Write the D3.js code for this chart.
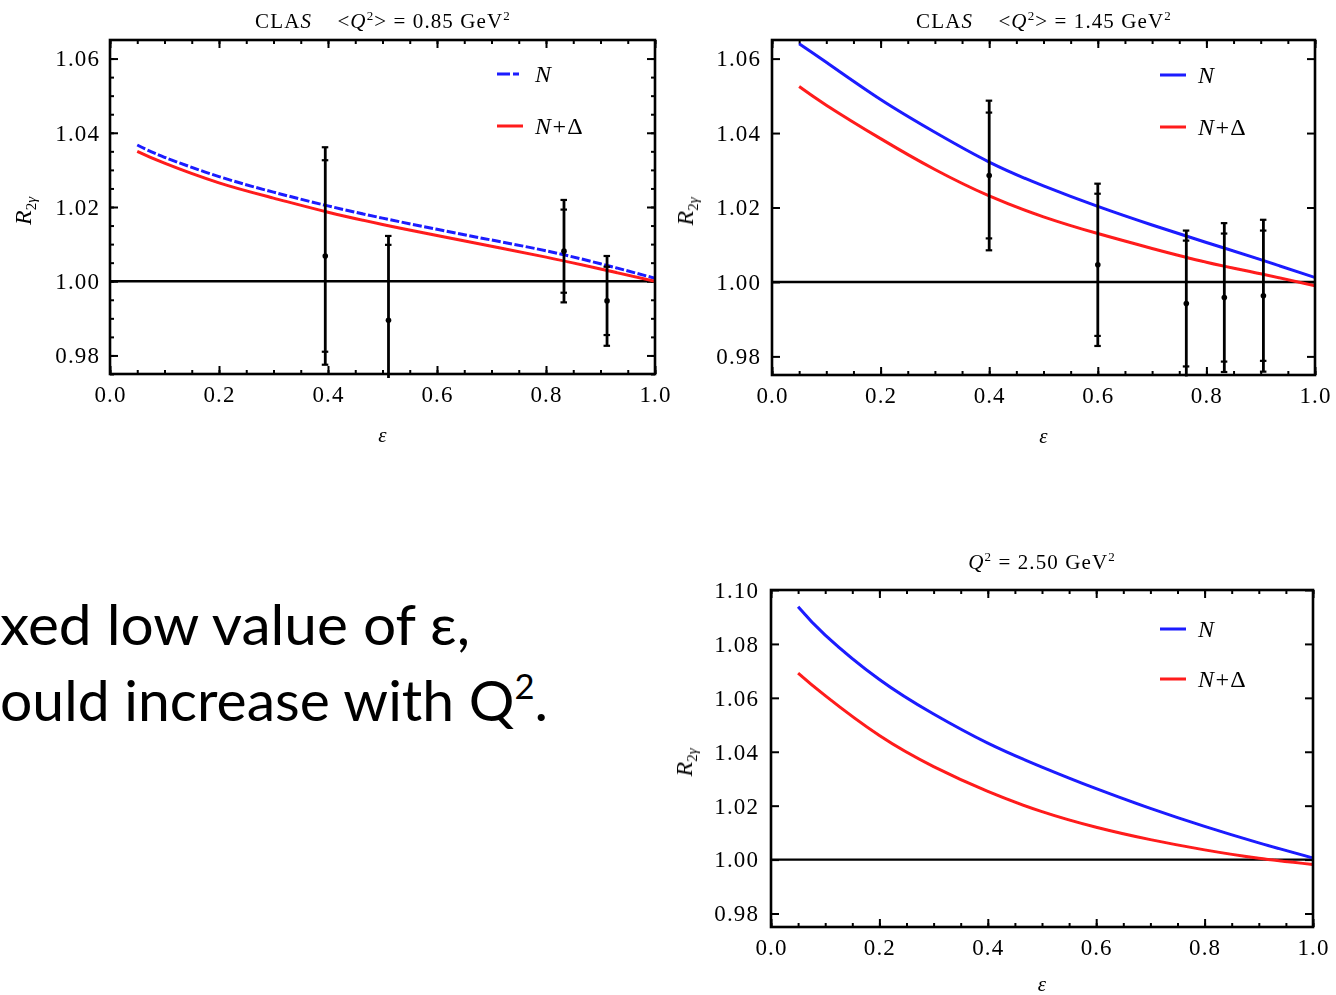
<!DOCTYPE html>
<html><head><meta charset="utf-8">
<script src="https://cdn.jsdelivr.net/npm/d3@7"></script>
<style>
body{margin:0;background:#fff;}
svg{display:block;}
text{white-space:pre;}
</style>
</head><body>
<script>
// ---------- data ----------
const epsGrid = [0.05, 0.1, 0.2, 0.3, 0.4, 0.5, 0.6, 0.7, 0.8, 0.9, 1.0];

// panel 1 : CLAS <Q2> = 0.85 GeV2
const p1N  = [1.0367, 1.0334, 1.0282, 1.0240, 1.0203, 1.0170, 1.0140, 1.0111, 1.0082, 1.0047, 1.0008];
const p1ND = [1.0350, 1.0318, 1.0265, 1.0224, 1.0186, 1.0153, 1.0123, 1.0094, 1.0065, 1.0033, 1.0000];
const p1DataEps   = [0.395, 0.511, 0.833, 0.912];
const p1DataVal   = [1.0068, 0.9895, 1.0081, 0.9947];
const p1ErrOuter  = [0.0293, 0.0227, 0.0138, 0.0121];
const p1ErrInner  = [0.0258, 0.0203, 0.0112, 0.0092];

// panel 2 : CLAS <Q2> = 1.45 GeV2
const p2N  = [1.0640, 1.0590, 1.0490, 1.0402, 1.0322, 1.0258, 1.0203, 1.0153, 1.0106, 1.0060, 1.0012];
const p2ND = [1.0525, 1.0475, 1.0385, 1.0302, 1.0231, 1.0175, 1.0130, 1.0090, 1.0053, 1.0022, 0.9990];
const p2DataEps   = [0.400, 0.600, 0.763, 0.833, 0.905];
const p2DataVal   = [1.0286, 1.0046, 0.9942, 0.9958, 0.9963];
const p2ErrOuter  = [0.0201, 0.0218, 0.0196, 0.0200, 0.0204];
const p2ErrInner  = [0.0169, 0.0191, 0.0169, 0.0172, 0.0175];

// panel 3 : Q2 = 2.50 GeV2
const p3N  = [1.0938, 1.0833, 1.0668, 1.0540, 1.0432, 1.0343, 1.0263, 1.0190, 1.0123, 1.0062, 1.0006];
const p3ND = [1.0692, 1.0608, 1.0460, 1.0345, 1.0253, 1.0178, 1.0120, 1.0074, 1.0036, 1.0005, 0.9982];

const xTicks      = [0.0, 0.2, 0.4, 0.6, 0.8, 1.0];
const xMinorTicks = d3.range(0, 21).map(i => i * 0.05);
const yTicksA     = [0.98, 1.00, 1.02, 1.04, 1.06];
const yMinorA     = d3.range(0, 18).map(i => 0.975 + i * 0.005);
const yTicksB     = [0.98, 1.00, 1.02, 1.04, 1.06, 1.08, 1.10];
const seriesNames = [["N", ""], ["N+", "Δ"]];
const seriesColors = ["#1a1aff", "#ff1a1a"];

// ---------- drawing ----------
const W = 1336, H = 995;
const svg = d3.select("body").append("svg").attr("width", W).attr("height", H);
svg.append("defs").append("filter").attr("id", "soft")
  .attr("x", "-5%").attr("y", "-5%").attr("width", "110%").attr("height", "110%")
  .append("feGaussianBlur").attr("stdDeviation", 0.6);

const SERIF = "'Liberation Serif','Times New Roman',serif";
const INK = "#000";

function drawPanel(cfg) {
  const g = svg.append("g").attr("filter", "url(#soft)");
  const x = d3.scaleLinear().domain([0, 1]).range([cfg.left, cfg.right]);
  const y = d3.scaleLinear().domain(cfg.yDomain).range([cfg.bottom, cfg.top]);

  const clipId = "clip" + cfg.id;
  svg.select("defs").append("clipPath").attr("id", clipId)
    .append("rect").attr("x", cfg.left).attr("y", cfg.top)
    .attr("width", cfg.right - cfg.left).attr("height", cfg.bottom - cfg.top);

  const styleAxis = sel => {
    sel.select(".domain").remove();
    sel.selectAll(".tick line").attr("stroke", INK).attr("stroke-width", 2);
    sel.selectAll(".tick text").attr("font-family", SERIF).attr("font-size", 23)
      .attr("fill", INK).attr("letter-spacing", 1.1);
  };

  // x axes (bottom labelled, top mirrored)
  g.append("g").attr("transform", `translate(0,${cfg.bottom})`)
    .call(d3.axisBottom(x).tickValues(xMinorTicks).tickSize(-4).tickFormat(""))
    .call(styleAxis);
  g.append("g").attr("transform", `translate(0,${cfg.bottom})`)
    .call(d3.axisBottom(x).tickValues(xTicks).tickSize(-8).tickPadding(12).tickFormat(d3.format(".1f")))
    .call(styleAxis);
  g.append("g").attr("transform", `translate(0,${cfg.top})`)
    .call(d3.axisTop(x).tickValues(xMinorTicks).tickSize(-4).tickFormat(""))
    .call(styleAxis);
  g.append("g").attr("transform", `translate(0,${cfg.top})`)
    .call(d3.axisTop(x).tickValues(xTicks).tickSize(-8).tickFormat(""))
    .call(styleAxis);

  // y axes
  if (cfg.yMinor) {
    const ym = cfg.yMinor.filter(v => v >= cfg.yDomain[0] && v <= cfg.yDomain[1]);
    g.append("g").attr("transform", `translate(${cfg.left},0)`)
      .call(d3.axisLeft(y).tickValues(ym).tickSize(-4).tickFormat("")).call(styleAxis);
    g.append("g").attr("transform", `translate(${cfg.right},0)`)
      .call(d3.axisRight(y).tickValues(ym).tickSize(-4).tickFormat("")).call(styleAxis);
  }
  g.append("g").attr("transform", `translate(${cfg.left},0)`)
    .call(d3.axisLeft(y).tickValues(cfg.yTicks).tickSize(-8).tickPadding(cfg.yPad).tickFormat(d3.format(".2f")))
    .call(styleAxis);
  g.append("g").attr("transform", `translate(${cfg.right},0)`)
    .call(d3.axisRight(y).tickValues(cfg.yTicks).tickSize(-8).tickFormat(""))
    .call(styleAxis);

  // reference line at 1
  g.append("line").attr("x1", cfg.left).attr("x2", cfg.right)
    .attr("y1", y(1)).attr("y2", y(1)).attr("stroke", INK).attr("stroke-width", 2.4);

  // curves
  const line = d3.line().x((d, i) => x(epsGrid[i])).y(d => y(d)).curve(d3.curveNatural);
  const cg = g.append("g").attr("clip-path", `url(#${clipId})`);
  cfg.curves.forEach((vals, k) => {
    cg.append("path").attr("d", line(vals)).attr("fill", "none")
      .attr("stroke", seriesColors[k]).attr("stroke-width", 3)
      .attr("stroke-dasharray", (k === 0 && cfg.dashedN) ? "9,2.5" : null);
  });

  // data with error bars
  if (cfg.data) {
    const d = cfg.data;
    const lo = cfg.bottom + 4, hi = cfg.top - 4;
    d.eps.forEach((e, i) => {
      const cx = x(e);
      const yTop = Math.max(y(d.val[i] + d.outer[i]), hi);
      const yBot = Math.min(y(d.val[i] - d.outer[i]), lo);
      g.append("line").attr("x1", cx).attr("x2", cx).attr("y1", yTop).attr("y2", yBot)
        .attr("stroke", INK).attr("stroke-width", 2.8);
      [d.val[i] + d.outer[i], d.val[i] - d.outer[i], d.val[i] + d.inner[i], d.val[i] - d.inner[i]]
        .forEach(v => {
          const yy = y(v);
          if (yy >= cfg.top && yy <= cfg.bottom) {
            g.append("line").attr("x1", cx - 3.5).attr("x2", cx + 3).attr("y1", yy).attr("y2", yy)
              .attr("stroke", INK).attr("stroke-width", 2.2);
          }
        });
      g.append("circle").attr("cx", cx).attr("cy", y(d.val[i])).attr("r", 2.8).attr("fill", INK);
    });
  }

  // frame
  g.append("rect").attr("x", cfg.left).attr("y", cfg.top)
    .attr("width", cfg.right - cfg.left).attr("height", cfg.bottom - cfg.top)
    .attr("fill", "none").attr("stroke", INK).attr("stroke-width", 2.6);

  // legend
  seriesNames.forEach((name, k) => {
    const ly = cfg.legendY[k];
    g.append("line").attr("x1", cfg.legendX).attr("x2", cfg.legendX + 26)
      .attr("y1", ly).attr("y2", ly).attr("stroke", seriesColors[k]).attr("stroke-width", 3)
      .attr("stroke-dasharray", (k === 0 && cfg.dashedN) ? "13,3,6,30" : null);
    const lt = g.append("text").attr("x", cfg.legendX + 38).attr("y", ly + 8)
      .attr("font-family", SERIF).attr("font-size", 24).attr("fill", INK);
    lt.append("tspan").attr("font-style", "italic").text(name[0]);
    if (name[1]) lt.append("tspan").text(name[1]);
  });

  // title
  const t = g.append("text").attr("x", cfg.titleX).attr("y", cfg.titleY)
    .attr("text-anchor", "middle").attr("font-family", SERIF).attr("font-size", 21)
    .attr("fill", INK).attr("letter-spacing", 1.1);
  cfg.title(t);

  // axis labels
  const mid = (cfg.left + cfg.right) / 2;
  g.append("text").attr("x", mid).attr("y", cfg.bottom + cfg.epsDy).attr("text-anchor", "middle")
    .attr("font-family", SERIF).attr("font-size", 21).attr("font-style", "italic")
    .attr("fill", INK).text("ε");
  const yl = g.append("text")
    .attr("transform", `translate(${cfg.left - 79},${(cfg.top + cfg.bottom) / 2 + 4}) rotate(-90)`)
    .attr("text-anchor", "middle").attr("font-family", SERIF).attr("font-size", 24)
    .attr("fill", INK);
  yl.append("tspan").attr("font-style", "italic").text("R");
  yl.append("tspan").attr("font-size", 15).attr("dy", 5).text("2");
  yl.append("tspan").attr("font-size", 15).attr("font-style", "italic").text("γ");
}

function clasTitle(qval) {
  return t => {
    t.append("tspan").text("CLA");
    t.append("tspan").attr("font-style", "italic").text("S");
    t.append("tspan").text("    <");
    t.append("tspan").attr("font-style", "italic").text("Q");
    t.append("tspan").attr("font-size", 13).attr("dy", -8).text("2");
    t.append("tspan").attr("dy", 8).text("> = " + qval + " GeV");
    t.append("tspan").attr("font-size", 13).attr("dy", -8).text("2");
  };
}

drawPanel({
  id: 1, left: 110, right: 655, top: 40, bottom: 374,
  yDomain: [0.975, 1.065], yTicks: yTicksA, yMinor: yMinorA, yPad: 10,
  curves: [p1N, p1ND], dashedN: true, epsDy: 68,
  data: { eps: p1DataEps, val: p1DataVal, outer: p1ErrOuter, inner: p1ErrInner },
  legendX: 497, legendY: [74, 126],
  titleX: 383, titleY: 28, title: clasTitle("0.85")
});

drawPanel({
  id: 2, left: 772, right: 1315, top: 40, bottom: 375,
  yDomain: [0.975, 1.065], yTicks: yTicksA, yMinor: null, yPad: 11,
  curves: [p2N, p2ND], dashedN: false, epsDy: 68,
  data: { eps: p2DataEps, val: p2DataVal, outer: p2ErrOuter, inner: p2ErrInner },
  legendX: 1160, legendY: [75, 127],
  titleX: 1044, titleY: 28, title: clasTitle("1.45")
});

drawPanel({
  id: 3, left: 771, right: 1313, top: 590, bottom: 927,
  yDomain: [0.975, 1.10], yTicks: yTicksB, yMinor: null, yPad: 12,
  curves: [p3N, p3ND], dashedN: false, epsDy: 64,
  data: null,
  legendX: 1160, legendY: [629, 679],
  titleX: 1042, titleY: 569,
  title: t => {
    t.append("tspan").attr("font-style", "italic").text("Q");
    t.append("tspan").attr("font-size", 13).attr("dy", -8).text("2");
    t.append("tspan").attr("dy", 8).text(" = 2.50 GeV");
    t.append("tspan").attr("font-size", 13).attr("dy", -8).text("2");
  }
});

// slide text (cropped on the left in the original)
const SANS = "Lato,'Open Sans','Noto Sans',sans-serif";
svg.append("text").attr("x", 0).attr("y", 645).attr("font-family", SANS).attr("font-size", 56)
  .attr("fill", "#000").attr("textLength", 470).attr("lengthAdjust", "spacingAndGlyphs")
  .text("xed low value of ε,");
const l2 = svg.append("text").attr("x", 0).attr("y", 721).attr("font-family", SANS)
  .attr("font-size", 56).attr("fill", "#000")
  .attr("textLength", 548).attr("lengthAdjust", "spacingAndGlyphs");
l2.append("tspan").text("ould increase with Q");
l2.append("tspan").attr("font-size", 34).attr("dy", -22).text("2");
l2.append("tspan").attr("dy", 22).text(".");
</script>
</body></html>
